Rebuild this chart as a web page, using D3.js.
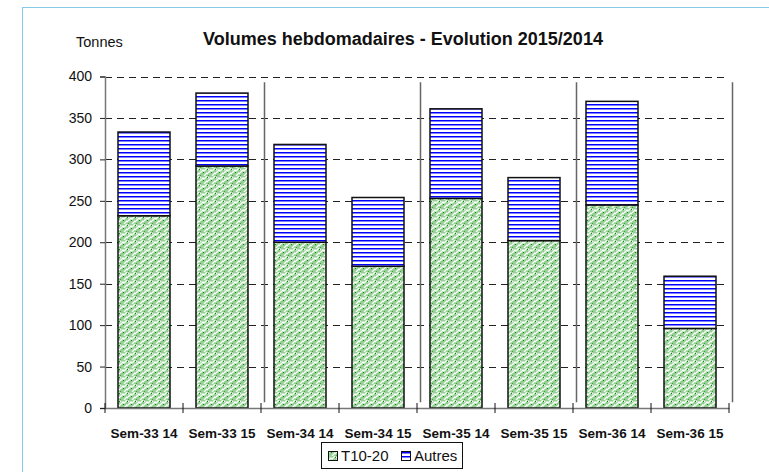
<!DOCTYPE html>
<html><head><meta charset="utf-8">
<script src="https://cdn.jsdelivr.net/npm/d3@7"></script>
<style>body{margin:0;background:#fff}svg{display:block;font-family:Arial,"Liberation Sans",sans-serif}</style>
</head><body><svg id="c" width="769" height="472"></svg>
<script>
const categories = ["Sem-33 14","Sem-33 15","Sem-34 14","Sem-34 15","Sem-35 14","Sem-35 15","Sem-36 14","Sem-36 15"];
const t1020 = [232, 292, 200, 171, 253, 202, 245, 96];
const autres = [101, 88, 118, 83, 108, 76, 125, 63];
const seriesNames = ["T10-20", "Autres"];
const yTicks = [0, 50, 100, 150, 200, 250, 300, 350, 400];

const svg = d3.select("#c");
const defs = svg.append("defs");
// green weave pattern
const pg = defs.append("pattern").attr("id","pgreen").attr("patternUnits","userSpaceOnUse").attr("width",8).attr("height",8);
pg.append("rect").attr("width",8).attr("height",8).attr("fill","#94d094");
pg.append("path").attr("d","M0,5 L3,2 L4,3 L7,0 M4,8 L7,5 L8,6 M0,1 L1,2").attr("stroke","#fff").attr("stroke-width",1.3).attr("fill","none");
pg.append("rect").attr("x",3).attr("y",4).attr("width",1).attr("height",1).attr("fill","#0a8a0a");
pg.append("rect").attr("x",7).attr("y",1).attr("width",1).attr("height",1).attr("fill","#0a8a0a");
pg.append("rect").attr("x",0).attr("y",7).attr("width",1).attr("height",1).attr("fill","#3aa03a");
// blue stripes
const pb = defs.append("pattern").attr("id","pblue").attr("patternUnits","userSpaceOnUse").attr("width",8).attr("height",4);
pb.append("rect").attr("width",8).attr("height",4).attr("fill","#fff");
pb.append("rect").attr("y",0).attr("width",8).attr("height",1).attr("fill","#0000ff");
pb.append("rect").attr("y",1).attr("width",8).attr("height",1).attr("fill","#8080ff");

// frame
svg.append("line").attr("x1",22.5).attr("x2",22.5).attr("y1",7).attr("y2",472).attr("stroke","#88cbe8");
svg.append("line").attr("x1",22).attr("x2",769).attr("y1",7.5).attr("y2",7.5).attr("stroke","#88cbe8");

const x = d3.scaleBand().domain(categories).range([105, 729]).paddingInner(1/3).paddingOuter(1/6);
const y = d3.scaleLinear().domain([0, 400]).range([408, 76.5]);

// gridlines
svg.append("g").selectAll("line").data(yTicks.filter(d=>d>0)).join("line")
  .attr("x1",105).attr("x2",729).attr("y1",d=>Math.round(y(d))+0.5).attr("y2",d=>Math.round(y(d))+0.5)
  .attr("stroke","#222").attr("stroke-dasharray","7,5");

// separators
const sepIdx = [1,3,5,7];
svg.append("g").selectAll("line").data(sepIdx).join("line")
  .attr("x1",i=>x(categories[i])+x.bandwidth()+x.step()*(1/6)+3.5)
  .attr("x2",i=>x(categories[i])+x.bandwidth()+x.step()*(1/6)+3.5)
  .attr("y1",y(393)).attr("y2",y(7))
  .attr("stroke","#666").attr("stroke-width",1.5);

// bars
const stackData = categories.map((c,i)=>({c, a:t1020[i], b:autres[i]}));
const stack = d3.stack().keys(["a","b"])(stackData);
const fills = ["url(#pgreen)","url(#pblue)"];
stack.forEach((s,k)=>{
  svg.append("g").selectAll("rect").data(s).join("rect")
    .attr("x",d=>x(d.data.c)).attr("width",x.bandwidth())
    .attr("y",d=>y(d[1])).attr("height",d=>y(d[0])-y(d[1]))
    .attr("fill",fills[k]).attr("stroke","#111").attr("stroke-width",1.5);
});

// y axis
const ya = svg.append("g").attr("transform","translate(105,0)")
  .call(d3.axisLeft(y).tickValues(yTicks).tickSize(5).tickPadding(8));
ya.select(".domain").attr("stroke","#777").attr("stroke-width",1.5);
ya.selectAll(".tick line").attr("stroke","#222");
ya.selectAll("text").attr("font-size",14).attr("font-family","Arial, Liberation Sans, sans-serif").attr("fill","#111");

// x axis
const xa = svg.append("g").attr("transform","translate(0,408)")
  .call(d3.axisBottom(x).tickSize(0).tickPadding(20));
xa.select(".domain").attr("stroke","#777").attr("stroke-width",1.5);
xa.selectAll("text").attr("font-size",13.5).attr("font-weight","bold").attr("font-family","Arial, Liberation Sans, sans-serif").attr("fill","#111");
// boundary ticks
const bounds = d3.range(categories.length+1).map(i=>105 + i*x.step());
svg.append("g").selectAll("line").data(bounds).join("line")
  .attr("x1",d=>d).attr("x2",d=>d).attr("y1",403).attr("y2",413).attr("stroke","#111");

// title
svg.append("text").attr("x",403).attr("y",45).attr("text-anchor","middle")
  .attr("font-size",18).attr("font-weight","bold").attr("fill","#111")
  .text("Volumes hebdomadaires - Evolution 2015/2014");
svg.append("text").attr("x",76).attr("y",47).attr("font-size",14.5).attr("fill","#111").text("Tonnes");

// legend
const lg = svg.append("g");
lg.append("rect").attr("x",321.5).attr("y",442.5).attr("width",141).attr("height",26).attr("fill","#fff").attr("stroke","#111");
const lx = [328, 401];
seriesNames.forEach((n,i)=>{
  lg.append("rect").attr("x",lx[i]+0.5).attr("y",451.5).attr("width",9).attr("height",9).attr("fill",fills[i]).attr("stroke","#111");
  lg.append("text").attr("x",lx[i]+13).attr("y",461).attr("font-size",15).attr("fill","#111").text(n);
});
</script></body></html>
